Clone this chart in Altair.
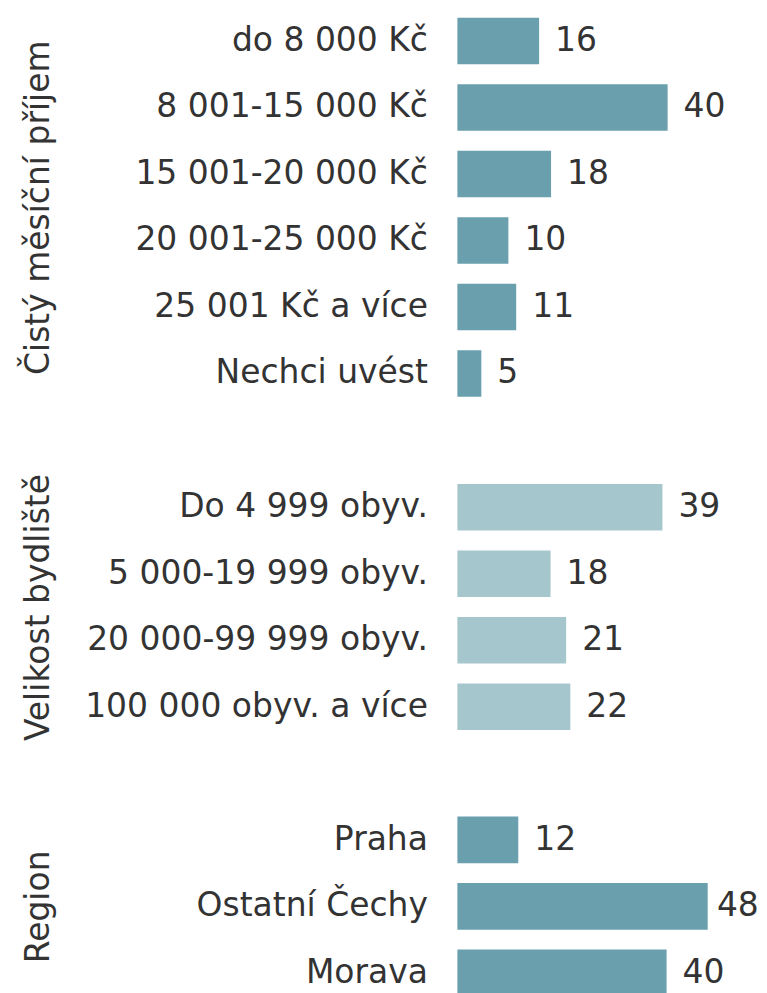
import altair as alt
import pandas as pd

# Data
cat_income = ["do 8 000 Kč", "8 001-15 000 Kč", "15 001-20 000 Kč",
              "20 001-25 000 Kč", "25 001 Kč a více", "Nechci uvést"]
val_income = [15.7, 40.4, 18.0, 9.8, 11.3, 4.6]

cat_size = ["Do 4 999 obyv.", "5 000-19 999 obyv.", "20 000-99 999 obyv.",
            "100 000 obyv. a více"]
val_size = [39.4, 17.9, 20.9, 21.7]

cat_region = ["Praha", "Ostatní Čechy", "Morava"]
val_region = [11.7, 48.1, 40.2]

titles = ["Čistý měsíční příjem", "Velikost bydliště", "Region"]

DARK = "#6a9fad"
LIGHT = "#a6c6cd"
FONT = "DejaVu Sans"
FS = 33
STEP = 66.6
W = 297
XMAX = 57
LABEL_MAX = 46.8  # keeps the widest value label inside the page


def panel(cats, vals, color, title):
    df = pd.DataFrame({"cat": cats, "val": vals,
                       "lab": [str(round(v)) for v in vals]})
    h = len(cats) * STEP
    base = alt.Chart(df).encode(
        y=alt.Y("cat:N", sort=cats, title=title,
                scale=alt.Scale(paddingInner=0.3, paddingOuter=0.15),
                axis=alt.Axis(ticks=False, domain=False, labelPadding=30,
                              labelFont=FONT, labelFontSize=FS, labelColor="#333333",
                              labelLimit=500,
                              titleFont=FONT, titleFontSize=FS, titleColor="#333333",
                              titleFontWeight="normal",
                              titleAngle=270, titleAlign="center", titleBaseline="middle",
                              titleX=-419, titleY=h / 2))
    )
    bars = base.mark_bar(color=color).encode(
        x=alt.X("val:Q", scale=alt.Scale(domain=[0, XMAX], nice=False), axis=None)
    )
    text = base.transform_calculate(
        pos=f"min(datum.val, {LABEL_MAX})"
    ).mark_text(align="left", baseline="middle", dx=16, fontSize=FS,
                font=FONT, color="#333333").encode(
        x=alt.X("pos:Q"), text="lab:N"
    )
    return (bars + text).properties(width=W, height=h)


chart = alt.vconcat(
    panel(cat_income, val_income, DARK, titles[0]),
    panel(cat_size, val_size, LIGHT, titles[1]),
    panel(cat_region, val_region, DARK, titles[2]),
    spacing=66,
).properties(
    padding={"left": 15, "top": -1, "right": 0, "bottom": 0}
).configure_view(stroke=None)

chart.save("out.html", embed_options={"renderer": "svg", "actions": False})
